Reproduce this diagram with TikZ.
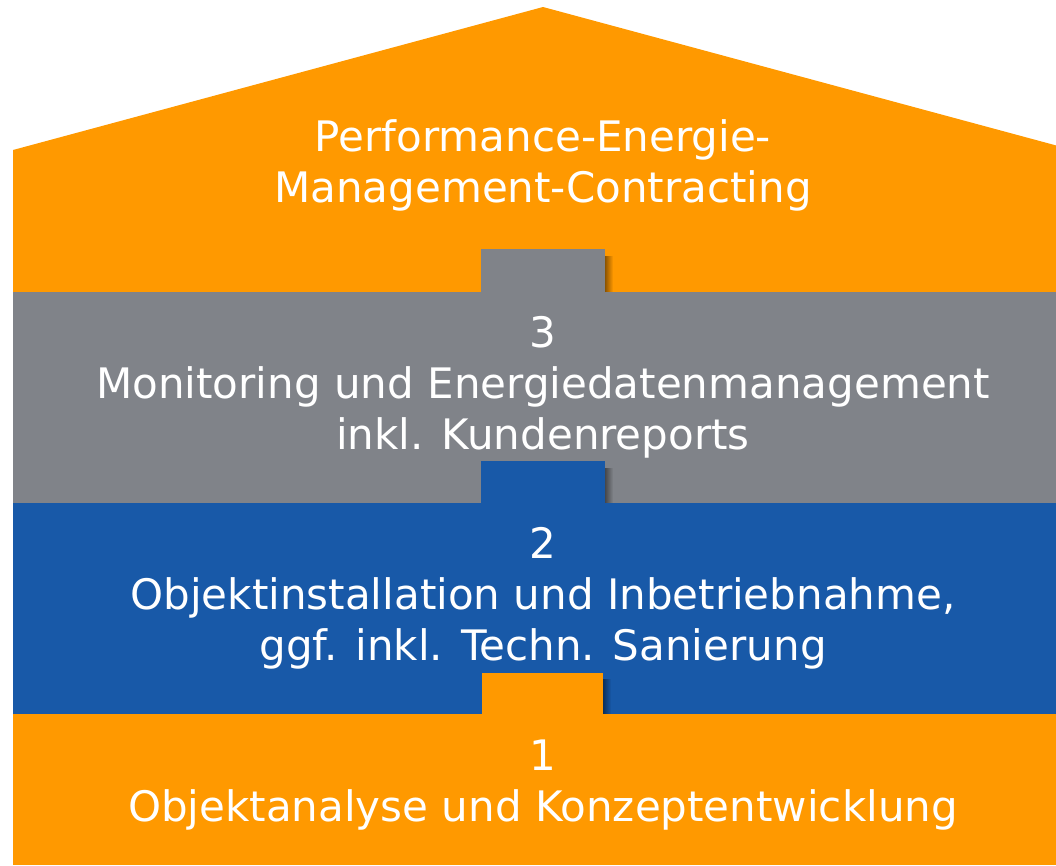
\documentclass[tikz,border=0pt]{standalone}
\usepackage{fontspec}
\setmainfont{DejaVu Sans}
\usetikzlibrary{fadings}
\definecolor{hausorange}{RGB}{255,153,0}
\definecolor{hausgrau}{RGB}{128,131,137}
\definecolor{hausblau}{RGB}{24,89,168}

\begin{document}
\begin{tikzpicture}[x=1pt,y=-1pt,
  stufe/.style={text=white,align=center,inner sep=0pt,
    font=\fontsize{42}{51}\selectfont},
  schatten/.style={black,opacity=.45,path fading=east}]
\useasboundingbox (0,0) rectangle (1056,865);
\begin{scope}
\clip (0,0) rectangle (1056,865);
% Dach und Ebenen
\fill[hausorange] (13,292) -- (13,150) -- (543,7) -- (1073,150) -- (1073,292) -- cycle;
\fill[hausgrau] (13,292) rectangle (1073,503);
\fill[hausblau] (13,503) rectangle (1073,714);
\fill[hausorange] (13,714) rectangle (1073,865);
% Verbindungsstuecke
\fill[schatten] (605,256) rectangle (613,292);
\fill[hausgrau] (481,249) rectangle (605,292);
\fill[schatten] (605,468) rectangle (613,503);
\fill[hausblau] (481,461) rectangle (605,503);
\fill[schatten] (603,679) rectangle (611,714);
\fill[hausorange] (482,673) rectangle (603,714);
\end{scope}
% Texte
\node[stufe] (pemc) at (543,165) {Performance-Energie-\\Management-Contracting};
\node[stufe] (stufe3) at (543,387) {3\\Monitoring und Energiedatenmanagement\\inkl. Kundenreports};
\node[stufe] (stufe2) at (543,598) {2\\Objektinstallation und Inbetriebnahme,\\ggf. inkl. Techn. Sanierung};
\node[stufe] (stufe1) at (543,785) {1\\Objektanalyse und Konzeptentwicklung};
\end{tikzpicture}
\end{document}
